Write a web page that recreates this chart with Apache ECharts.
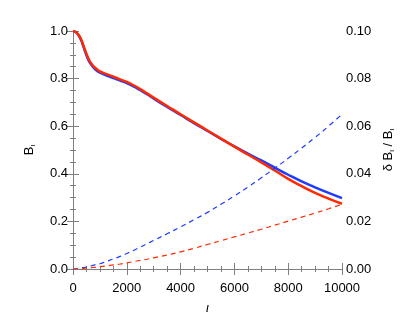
<!DOCTYPE html>
<html>
<head>
<meta charset="utf-8">
<style>
    html, body { margin: 0; padding: 0; background: #fff; }
    #main { width: 415px; height: 332px; }
</style>
</head>
<body>
<div id="main"></div>
<script src="https://cdn.jsdelivr.net/npm/echarts@6/dist/echarts.min.js"></script>
<script>
    // 时间点
    var times = [0, 100, 200, 300, 400, 500, 600, 700, 800, 900, 1000, 1250, 1500, 1750, 2000, 2250,
        2500, 2750, 3000, 3500, 4000, 4500, 5000, 5500, 6000, 6500, 7000, 7500, 8000, 8500, 9000, 9500, 10000];
    // B_ι (左轴)
    var blueB = [1.0, 0.996, 0.983, 0.962, 0.930, 0.898, 0.872, 0.855, 0.842, 0.832, 0.825, 0.813, 0.802, 0.792, 0.781, 0.767,
        0.751, 0.734, 0.716, 0.681, 0.647, 0.613, 0.580, 0.547, 0.515, 0.485, 0.456, 0.426, 0.396, 0.368, 0.343, 0.320, 0.298];
    var redB = [1.0, 0.996, 0.985, 0.965, 0.935, 0.905, 0.878, 0.860, 0.848, 0.838, 0.830, 0.819, 0.808, 0.797, 0.786, 0.772,
        0.756, 0.738, 0.720, 0.685, 0.650, 0.616, 0.582, 0.548, 0.514, 0.481, 0.448, 0.414, 0.379, 0.348, 0.320, 0.296, 0.274];
    // δB_ι / B_ι (右轴)
    var blueD = [0, 0.0001, 0.0003, 0.0005, 0.0006, 0.0008, 0.0011, 0.0014, 0.0017, 0.0019, 0.0022, 0.0032, 0.0042, 0.0053, 0.0065, 0.0078,
        0.0092, 0.0106, 0.0120, 0.0148, 0.0177, 0.0207, 0.0238, 0.0272, 0.0307, 0.0344, 0.0383, 0.0423, 0.0465, 0.0508, 0.0553, 0.0600, 0.0650];
    var redD = [0, 0.0001, 0.0002, 0.0002, 0.0003, 0.0004, 0.0005, 0.0006, 0.0007, 0.0009, 0.0010, 0.0013, 0.0017, 0.0021, 0.0026, 0.0031,
        0.0036, 0.0041, 0.0047, 0.0059, 0.0072, 0.0087, 0.0103, 0.0119, 0.0135, 0.0151, 0.0167, 0.0184, 0.0201, 0.0218, 0.0235, 0.0253, 0.0272];
    var xTicks = [0, 2000, 4000, 6000, 8000, 10000];

    function pairs(ys) {
        return times.map(function (t, i) { return [t, ys[i]]; });
    }

    var axisGray = '#7f7f7f';
    var font = 'Liberation Sans';
    var subRich = {
        n: { fontSize: 13, fontFamily: font, color: '#000' },
        s: { fontSize: 8, fontFamily: font, color: '#000', padding: [7, 0, 0, 0] }
    };
    var tick = { inside: true, length: 6, lineStyle: { color: axisGray } };
    var minor = { show: true, splitNumber: 4, length: 3, lineStyle: { color: axisGray } };

    var myChart = echarts.init(document.getElementById('main'));

    var option = {
        animation: false,
        grid: { left: 73, right: 73, top: 31, bottom: 63 },
        xAxis: [{
            type: 'value', min: xTicks[0], max: xTicks[xTicks.length - 1], interval: 2000,
            name: 'ι', nameLocation: 'middle', nameGap: 33,
            nameTextStyle: { fontSize: 13, fontFamily: font, color: '#000', fontStyle: 'italic' },
            axisLine: { show: true, lineStyle: { color: axisGray } },
            axisTick: tick, minorTick: minor,
            axisLabel: { fontSize: 13, fontFamily: font, color: '#000', margin: 13,
                formatter: function (v) { return String(v); } },
            splitLine: { show: false }
        }, {
            type: 'value', min: 0, max: 10000, interval: 2000, position: 'top',
            axisLine: { show: true, lineStyle: { color: axisGray } },
            axisTick: tick, minorTick: minor,
            axisLabel: { show: false },
            splitLine: { show: false }
        }],
        yAxis: [{
            type: 'value', min: 0, max: 1, interval: 0.2,
            name: '{n|B}{s|ι}', nameLocation: 'middle', nameGap: 36,
            nameTextStyle: { rich: subRich },
            axisLine: { show: true, lineStyle: { color: axisGray } },
            axisTick: tick, minorTick: minor,
            axisLabel: { fontSize: 13, fontFamily: font, color: '#000', margin: 5,
                formatter: function (v) { return v.toFixed(1); } },
            splitLine: { show: false }
        }, {
            type: 'value', min: 0, max: 0.1, interval: 0.02, position: 'right',
            name: '{n|δ B}{s|ι}{n| / B}{s|ι}', nameLocation: 'middle', nameGap: 36, nameRotate: 90,
            nameTextStyle: { rich: subRich },
            axisLine: { show: true, lineStyle: { color: axisGray } },
            axisTick: tick, minorTick: minor,
            axisLabel: { fontSize: 13, fontFamily: font, color: '#000', margin: 4,
                formatter: function (v) { return v.toFixed(2); } },
            splitLine: { show: false }
        }],
        series: [{
            type: 'line', data: pairs(blueB), yAxisIndex: 0, showSymbol: false, smooth: true,
            lineStyle: { color: '#1f3cff', width: 2.5 }
        }, {
            type: 'line', data: pairs(redB), yAxisIndex: 0, showSymbol: false, smooth: true,
            lineStyle: { color: '#ff2a00', width: 2.5 }
        }, {
            type: 'line', data: pairs(blueD), yAxisIndex: 1, showSymbol: false, smooth: true,
            lineStyle: { color: '#1f3cff', width: 1.2, type: [5, 4] }
        }, {
            type: 'line', data: pairs(redD), yAxisIndex: 1, showSymbol: false, smooth: true,
            lineStyle: { color: '#ff2a00', width: 1.2, type: [5, 4] }
        }]
    };

    myChart.setOption(option);
</script>
</body>
</html>
